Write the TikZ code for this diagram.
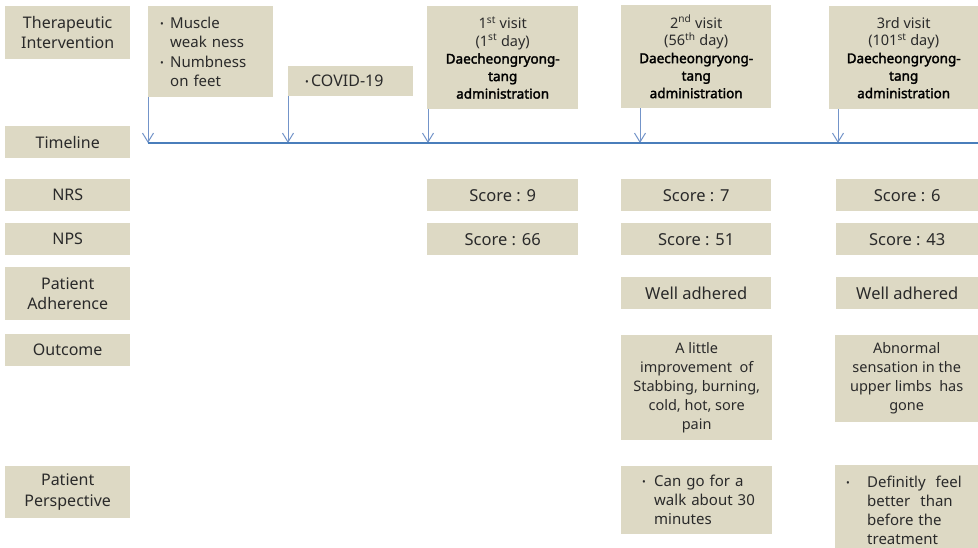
\documentclass[tikz,border=0pt]{standalone}
\usepackage{fontspec}
\setmainfont{Noto Sans}
\newfontfamily\nsbold{Noto Sans}[FakeBold=2.2]
\usetikzlibrary{arrows.meta}
\definecolor{tanbg}{HTML}{DDD9C4}
\definecolor{ink}{HTML}{2A2A2A}
\definecolor{tline}{HTML}{4A7EBB}
\definecolor{tarrow}{HTML}{7394C9}
\newcommand{\fs}[2]{\fontsize{#1}{#2}\selectfont}
\newcommand{\blt}[1][10pt]{\makebox[#1][l]{{\fs{10}{10}\raisebox{1pt}{•}}}}
\newcommand{\bld}[1]{{\nsbold\fs{13.5}{17.5}\textcolor{black}{#1}}}

\begin{document}
\begin{tikzpicture}[x=1pt,y=-1pt,
  cell/.style={fill=tanbg, inner sep=0pt, anchor=north west, text=ink, align=center},
  lab/.style={cell, minimum width=125pt, font=\fs{16}{20.5}},
  visit/.style={cell, minimum height=103pt, font=\fs{14.5}{17.5}},
  score/.style={cell, minimum height=32pt, font=\fs{16.5}{20}},
  note/.style={cell, font=\fs{14.5}{19}},
  tl/.style={draw=tline, line width=2pt},
  tarr/.style={draw=tarrow, line width=1pt, -{Straight Barb[length=9pt,width=11pt]}}
]
\useasboundingbox (0,0) rectangle (978,547);
\fill[white] (0,0) rectangle (978,547);

% row labels
\node[lab, minimum height=53pt] (thera) at (5,6) {Therapeutic\\Intervention};
\node[lab, minimum height=32pt] (timel) at (5,126) {Timeline};
\node[lab, minimum height=32pt] (nrs) at (5,179) {NRS};
\node[lab, minimum height=32pt] (nps) at (5,223) {NPS};
\node[lab, minimum height=53pt] (adh) at (5,267) {Patient\\Adherence};
\node[lab, minimum height=32pt] (outc) at (5,334) {Outcome};
\node[lab, minimum height=52pt] (persp) at (5,466) {Patient\\Perspective};

% events before treatment
\node[cell, align=left, text width=101pt, inner xsep=12pt, minimum height=91pt, font=\fs{15}{19.5}] (sympt) at (148,6)
  {\blt Muscle\\\hspace*{10pt}weak ness\\\blt Numbness\\\hspace*{10pt}on feet};
\node[cell, align=left, text width=91pt, inner xsep=17pt, minimum height=30pt, font=\fs{16}{20}] (covid) at (288,66)
  {\blt[6pt]COVID-19};

% visits
\node[visit, minimum width=151pt] (v1) at (427,6)
  {1\textsuperscript{st} visit\\(1\textsuperscript{st} day)\\\bld{Daecheongryong-}\\\bld{tang}\\\bld{administration}};
\node[visit, minimum width=150pt] (v2) at (621,5)
  {2\textsuperscript{nd} visit\\(56\textsuperscript{th} day)\\\bld{Daecheongryong-}\\\bld{tang}\\\bld{administration}};
\node[visit, minimum width=149pt] (v3) at (829,6)
  {3rd visit\\(101\textsuperscript{st} day)\\\bld{Daecheongryong-}\\\bld{tang}\\\bld{administration}};

% timeline
\coordinate (t1) at (148,143);
\coordinate (t2) at (288,143);
\coordinate (t3) at (428,143);
\coordinate (t4) at (640,143);
\coordinate (t5) at (838,143);
\coordinate (tend) at (978,143);
\draw[tarr] (sympt.south west) -- (t1);
\draw[tarr] (covid.south west) -- (t2);
\draw[tarr] (v1.south -| t3) -- (t3);
\draw[tarr] (v2.south -| t4) -- (t4);
\draw[tarr] (v3.south -| t5) -- (t5);
\draw[tl] (t1) -- (tend);

% NRS and NPS scores
\node[score, minimum width=151pt] (nrs1) at (427,179) {Score : 9};
\node[score, minimum width=150pt] (nrs2) at (621,179) {Score : 7};
\node[score, minimum width=142pt] (nrs3) at (836,179) {Score : 6};
\node[score, minimum width=151pt] (nps1) at (427,223) {Score : 66};
\node[score, minimum width=150pt] (nps2) at (621,223) {Score : 51};
\node[score, minimum width=142pt] (nps3) at (836,223) {Score : 43};

% adherence
\node[score, minimum width=150pt] (adh2) at (621,277) {Well adhered};
\node[score, minimum width=142pt] (adh3) at (836,277) {Well adhered};

% outcome
\node[note, minimum width=151pt, minimum height=105pt] (out2) at (621,335)
  {A little\\improvement~~of\\Stabbing, burning,\\cold, hot, sore\\pain};
\node[note, minimum width=143pt, minimum height=87pt] (out3) at (835,335)
  {Abnormal\\sensation in the\\upper limbs~~has\\gone};

% patient perspective
\node[note, align=left, text width=151pt, minimum height=68pt, font=\fs{15}{19}] (per2) at (621,466)
  {\hspace*{21pt}\blt[12pt]Can go for a\\\hspace*{33pt}walk about 30\\\hspace*{33pt}minutes};
\node[note, align=left, text width=143pt, minimum height=90pt, font=\fs{15}{19}] (per3) at (835,465)
  {\hspace*{11pt}\blt[21pt]Definitly~~feel\\\hspace*{32pt}better~~than\\\hspace*{32pt}before the\\\hspace*{32pt}treatment};
\end{tikzpicture}
\end{document}
